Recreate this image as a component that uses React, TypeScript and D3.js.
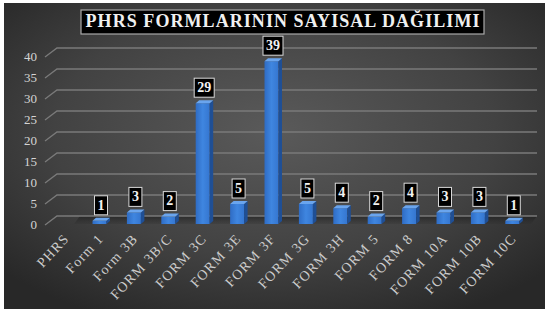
import React from "react";
import * as d3 from "d3";

const categories = ["PHRS", "Form 1", "Form 3B", "FORM 3B/C", "FORM 3C", "FORM 3E", "FORM 3F", "FORM 3G", "FORM 3H", "FORM 5", "FORM 8", "FORM 10A", "FORM 10B", "FORM 10C"];
const values = [0, 1, 3, 2, 29, 5, 39, 5, 4, 2, 4, 3, 3, 1];
const yTicks = [0, 5, 10, 15, 20, 25, 30, 35, 40];
const title = "PHRS FORMLARININ SAYISAL DAĞILIMI";

const W = 547, H = 313;
const DX = 12, DY = 9; // depth offset (front -> back)

export default function App() {
  const x = d3.scaleBand<string>().domain(categories).range([49.4, 531]).padding(0);
  const y = d3.scaleLinear().domain([0, 40]).range([225, 57]);
  const serif = "'Liberation Serif', 'DejaVu Serif', serif";
  const bw = 14, side = 3.5, topD = 3;

  return (
    <svg width={W} height={H} style={{ position: "absolute", left: 0, top: 0 }} xmlns="http://www.w3.org/2000/svg">
      <defs>
        <radialGradient id="bg" cx="50%" cy="42%" r="68%">
          <stop offset="0%" stopColor="#5a5a5a" />
          <stop offset="60%" stopColor="#424242" />
          <stop offset="100%" stopColor="#282828" />
        </radialGradient>
        <linearGradient id="front" x1="0" x2="1" y1="0" y2="0">
          <stop offset="0%" stopColor="#2f6cc4" />
          <stop offset="50%" stopColor="#3f86e0" />
          <stop offset="100%" stopColor="#3576d0" />
        </linearGradient>
        <linearGradient id="floor" x1="0" x2="0" y1="0" y2="1">
          <stop offset="0%" stopColor="#1e1e1e" stopOpacity="0.7" />
          <stop offset="100%" stopColor="#2a2a2a" stopOpacity="0.2" />
        </linearGradient>
      </defs>
      <rect x={0} y={0} width={W} height={H} fill="#ffffff" />
      <rect x={4} y={3} width={541} height={306} fill="url(#bg)" />

      {/* floor shadow */}
      <path d={`M${80},${y(0) - DY} L${537},${y(0) - DY} L${531},${y(0) - 1} L${74},${y(0) - 1} Z`} fill="url(#floor)" />

      {/* gridlines */}
      {yTicks.map((t) => (
        <g key={t}>
          <path
            d={`M${45},${y(t)} L${45 + DX},${y(t) - DY} L${537},${y(t) - DY}`}
            fill="none"
            stroke="#7a7a7a"
            strokeWidth={1.3}
          />
          <text x={37} y={y(t) + 1} textAnchor="end" dominantBaseline="middle" fill="#d4d4d4" fontFamily={serif} fontSize={13}>
            {t}
          </text>
        </g>
      ))}

      {/* bars */}
      {categories.map((c, i) => {
        const v = values[i];
        if (v <= 0) return null;
        const cx = (x(c) as number) + x.bandwidth() / 2;
        const x0 = cx - bw / 2 - 1.5;
        const x1 = x0 + bw;
        const yt = y(v);
        const yb = y(0) - 1;
        return (
          <g key={c}>
            <rect x={x0} y={yt} width={bw} height={yb - yt} fill="url(#front)" />
            <path d={`M${x1},${yt} L${x1 + side},${yt - topD} L${x1 + side},${yb - topD} L${x1},${yb} Z`} fill="#1f4f95" />
            <path d={`M${x0},${yt} L${x0 + side},${yt - topD} L${x1 + side},${yt - topD} L${x1},${yt} Z`} fill="#6aa5ee" />
          </g>
        );
      })}

      {/* data labels */}
      {categories.map((c, i) => {
        const v = values[i];
        if (v <= 0) return null;
        const cx = (x(c) as number) + x.bandwidth() / 2;
        const s = String(v);
        const w = s.length > 1 ? 20 : 13;
        const hgt = 19;
        const yb = y(v) - topD - 3;
        return (
          <g key={"l" + c}>
            <rect x={cx - w / 2} y={yb - hgt} width={w} height={hgt} fill="#000" stroke="#d8d8d8" strokeWidth={1} />
            <text x={cx} y={yb - hgt / 2 + 1} textAnchor="middle" dominantBaseline="middle" fill="#f2f2f2" fontFamily={serif} fontWeight="bold" fontSize={14}>
              {s}
            </text>
          </g>
        );
      })}

      {/* x labels */}
      {categories.map((c) => {
        const cx = (x(c) as number) + x.bandwidth() / 2;
        const ax = cx + 1, ay = 237;
        return (
          <text
            key={"x" + c}
            x={ax}
            y={ay}
            transform={`rotate(-47, ${ax}, ${ay})`}
            textAnchor="end"
            dominantBaseline="middle"
            fill="#cccccc"
            fontFamily={serif}
            fontSize={14}
            letterSpacing={1.2}
          >
            {c}
          </text>
        );
      })}

      {/* title */}
      <rect x={81} y={10} width={403} height={24} fill="#000" stroke="#a8a8a8" strokeWidth={1.2} />
      <text x={282.5} y={23} textAnchor="middle" dominantBaseline="middle" fill="#f0f0f0" fontFamily={serif} fontWeight="bold" fontSize={18} textLength={394} lengthAdjust="spacing">
        {title}
      </text>
    </svg>
  );
}
